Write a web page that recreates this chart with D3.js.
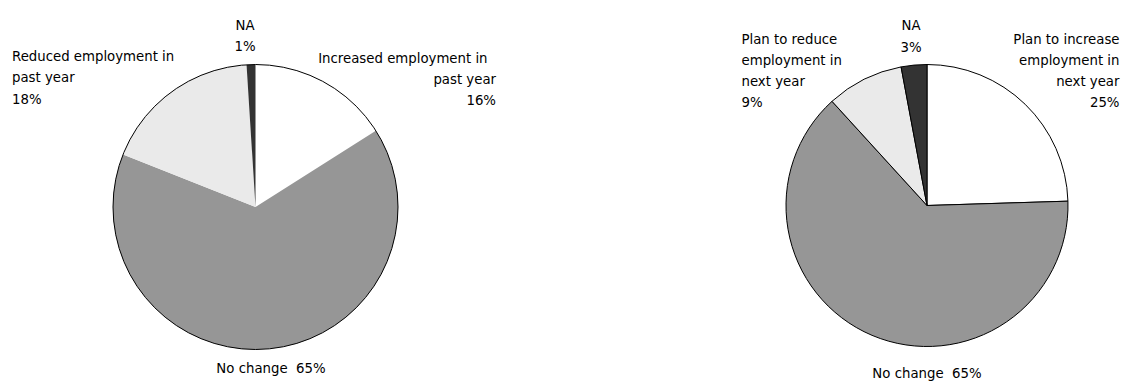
<!DOCTYPE html>
<html>
<head>
<meta charset="utf-8">
<script src="https://cdn.jsdelivr.net/npm/d3@7"></script>
<style>
  html, body { margin: 0; padding: 0; background: #fff; }
  svg { display: block; }
  text { font-family: "DejaVu Sans", Verdana, sans-serif; font-size: 13.3px; fill: #000; }
</style>
</head>
<body>
<svg id="chart" width="1123" height="381"></svg>
<script>
// Past-year change in employment (share of firms, %)
const pastCategories = ["Increased employment in past year", "No change", "Reduced employment in past year", "NA"];
const pastValues = [16, 65, 18, 1];

// Planned change in employment for next year (share of firms, %)
const nextCategories = ["Plan to increase employment in next year", "No change", "Plan to reduce employment in next year", "NA"];
const nextValues = [25, 65, 9, 3];

const sliceColors = ["#ffffff", "#969696", "#eaeaea", "#333333"];

const svg = d3.select("#chart");
const color = d3.scaleOrdinal().domain([0, 1, 2, 3]).range(sliceColors);
const pie = d3.pie().sort(null).value(d => d.value);

function drawPie(cfg) {
  const data = cfg.categories.map((c, i) => ({ name: c, value: cfg.values[i], i }));
  const arc = d3.arc().innerRadius(0).outerRadius(cfg.r);
  const g = svg.append("g").attr("transform", `translate(${cfg.cx},${cfg.cy})`);

  g.selectAll("path.slice")
    .data(pie(data))
    .join("path")
    .attr("class", "slice")
    .attr("d", arc)
    .attr("fill", d => color(d.data.i))
    .attr("stroke", cfg.sliceStroke ? "#000" : "none")
    .attr("stroke-width", 1)
    .attr("stroke-linejoin", "round");

  if (!cfg.sliceStroke) {
    g.append("circle")
      .attr("r", cfg.r)
      .attr("fill", "none")
      .attr("stroke", "#000")
      .attr("stroke-width", 1);
  }

  // Labels: each block is a list of lines plus anchor position
  cfg.labels.forEach(lb => {
    const t = svg.append("text")
      .attr("text-anchor", lb.anchor)
      .attr("xml:space", "preserve");
    lb.lines.forEach((line, k) => {
      t.append("tspan")
        .attr("x", lb.x)
        .attr("y", lb.y + k * lb.lh)
        .text(line);
    });
  });
}

const pct = v => `${v}%`;

drawPie({
  cx: 255.5, cy: 207, r: 142.5,
  categories: pastCategories, values: pastValues, sliceStroke: false,
  labels: [
    { lines: ["Increased employment in\u00a0\u00a0", "past year", pct(pastValues[0])], x: 496, y: 62.5, lh: 21, anchor: "end" },
    { lines: ["No change  " + pct(pastValues[1])], x: 271, y: 373, lh: 21, anchor: "middle" },
    { lines: ["Reduced employment in", "past year", pct(pastValues[2])], x: 12, y: 60.5, lh: 21.5, anchor: "start" },
    { lines: ["NA", pct(pastValues[3])], x: 245, y: 29.5, lh: 21.5, anchor: "middle" }
  ]
});

drawPie({
  cx: 927, cy: 205.5, r: 141,
  categories: nextCategories, values: nextValues, sliceStroke: true,
  labels: [
    { lines: ["Plan to increase", "employment in", "next year", pct(nextValues[0])], x: 1119.5, y: 43.5, lh: 21, anchor: "end" },
    { lines: ["No change  " + pct(nextValues[1])], x: 927, y: 377.5, lh: 21, anchor: "middle" },
    { lines: ["Plan to reduce", "employment in", "next year", pct(nextValues[2])], x: 741.5, y: 43.5, lh: 21, anchor: "start" },
    { lines: ["NA", pct(nextValues[3])], x: 911, y: 30, lh: 21.5, anchor: "middle" }
  ]
});
</script>
</body>
</html>
